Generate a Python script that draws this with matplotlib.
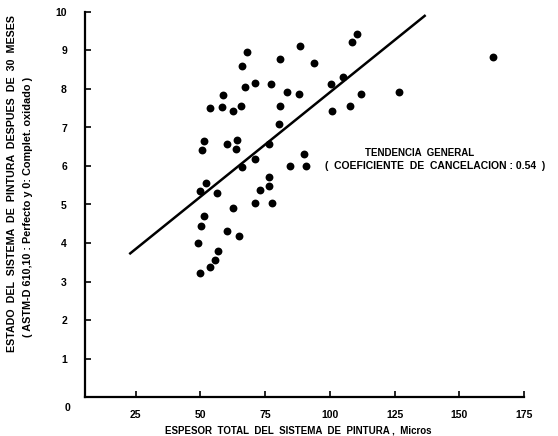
import matplotlib
matplotlib.use("Agg")
import matplotlib.pyplot as plt

# Data
espesor = [68.1, 88.4, 80.7, 93.7, 66.2, 71.0, 67.3, 77.1, 58.7, 83.4,
           87.9, 53.8, 58.3, 62.5, 65.5, 80.8, 80.2, 51.4, 50.5, 60.3,
           64.1, 63.7, 76.4, 71.0, 65.9, 90.0, 84.5, 90.8, 52.0, 49.8,
           56.3, 76.4, 72.9, 76.5, 70.9, 77.8, 62.7, 51.5, 50.1, 60.4,
           64.8, 49.1, 56.6, 55.8, 53.5, 49.9, 108.7, 110.5, 100.4, 105.2,
           112.1, 126.7, 163.1, 100.9, 107.8]
estado = [8.95, 9.12, 8.79, 8.68, 8.59, 8.16, 8.06, 8.12, 7.84, 7.91,
          7.87, 7.51, 7.52, 7.44, 7.57, 7.57, 7.09, 6.66, 6.41, 6.58,
          6.68, 6.43, 6.56, 6.17, 5.97, 6.31, 6.00, 5.99, 5.57, 5.35,
          5.30, 5.71, 5.38, 5.49, 5.04, 5.03, 4.91, 4.69, 4.43, 4.31,
          4.17, 3.99, 3.78, 3.55, 3.38, 3.23, 9.23, 9.44, 8.14, 8.32,
          7.86, 7.93, 8.82, 7.42, 7.55]
trend_x = [22.5, 137.0]
trend_y = [3.71, 9.92]
xticks = [25, 50, 75, 100, 125, 150, 175]
yticks = [1, 2, 3, 4, 5, 6, 7, 8, 9, 10]

plt.rcParams['font.family'] = ['Liberation Sans', 'DejaVu Sans']
plt.rcParams['font.weight'] = 'bold'

W, H = 558, 436
fig = plt.figure(figsize=(W / 100, H / 100), dpi=100)
ax = fig.add_axes([85 / W, 1 - 397 / H, (524 - 85) / W, (397 - 12) / H])

ax.scatter(espesor, estado, s=32, color='black', zorder=3, linewidths=0)
ax.plot(trend_x, trend_y, color='black', lw=1.8, solid_capstyle='butt')

ax.set_xlim(5.4, 175.0)
ax.set_ylim(0, 10)
ax.set_xticks(xticks)
ax.set_yticks(yticks)
ax.set_xticklabels([str(v) for v in xticks], fontsize=7.5, fontweight='bold')
ax.set_yticklabels([str(v) for v in yticks], fontsize=7.5, fontweight='bold')
for s in ['top', 'right']:
    ax.spines[s].set_visible(False)
for s in ['left', 'bottom']:
    ax.spines[s].set_linewidth(1.6)
ax.tick_params(direction='in', length=4, width=1.2, pad=9)
ax.tick_params(axis='y', pad=13)

ax.text(-0.04, -0.028, '0', transform=ax.transAxes, fontsize=7.5,
        fontweight='bold', ha='center', va='center')

fig.text(420 / W, 1 - 153 / H, 'TENDENCIA  GENERAL',
         fontsize=7, fontweight='bold', ha='center', va='center')
fig.text(325 / W, 1 - 166 / H, '(  COEFICIENTE  DE  CANCELACION : 0.54  )',
         fontsize=7.5, fontweight='bold', ha='left', va='center')

fig.text(298 / W, 1 - 430 / H,
         'ESPESOR  TOTAL  DEL  SISTEMA  DE  PINTURA ,  Micros',
         fontsize=7, fontweight='bold', ha='center', va='center')
fig.text(12 / W, 1 - 184 / H,
         'ESTADO  DEL  SISTEMA  DE  PINTURA  DESPUES  DE  30  MESES',
         fontsize=7.7, fontweight='bold', ha='center', va='center',
         rotation=90)
fig.text(28 / W, 1 - 207 / H,
         '( ASTM-D 610,10 : Perfecto y 0: Complet. oxidado )',
         fontsize=7.8, fontweight='bold', ha='center', va='center',
         rotation=90)

fig.savefig('out.png', dpi=100)
